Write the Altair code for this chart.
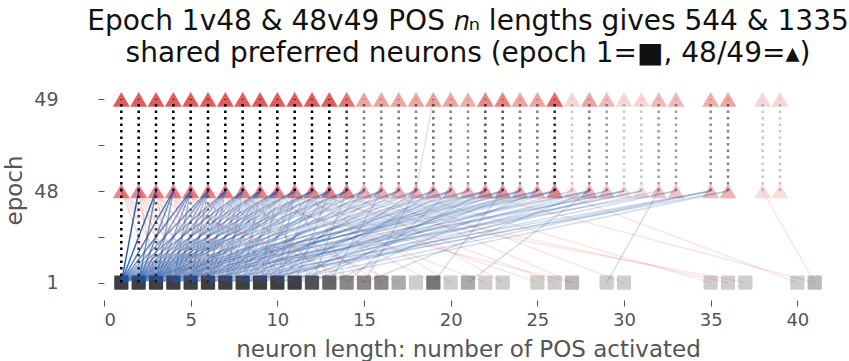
import altair as alt
import pandas as pd

# ---------------- data ----------------
EPOCHS = [1, 48, 49]          # rows of the chart (bottom to top)

# epoch 1 neuron lengths (squares) and how many shared neurons have that length
sq_len = [1, 2, 3, 4, 5, 6, 7, 8, 9, 10, 11, 12, 13, 14, 15, 16, 17, 18, 19, 20, 21, 22, 23,
          25, 26, 27, 29, 30, 35, 36, 37, 40, 41]
sq_n = [95, 75, 62, 52, 44, 37, 31, 26, 21, 17, 16, 13, 10, 6, 6, 6, 3, 1, 8, 1, 3, 1, 1,
        1, 1, 2, 1, 1, 1, 1, 1, 1, 2]

# epoch 48 -> 49 neurons keeping the same length (triangles + dotted verticals)
tri_len = [1, 2, 3, 4, 5, 6, 7, 8, 9, 10, 11, 12, 13, 14, 15, 16, 17, 18, 19, 20, 21, 22, 23,
           24, 25, 26, 27, 28, 29, 30, 31, 32, 33, 35, 36, 38, 39]
tri_n = [180, 160, 140, 120, 110, 95, 80, 70, 60, 50, 40, 30, 25, 12, 5, 5, 5, 5, 6, 5, 4, 9, 9,
         5, 5, 14, 1, 5, 3, 1, 1, 3, 3, 4, 5, 1, 1]

# epoch 1 -> 48 neurons keeping the same length (dotted verticals)
same148_len = [1, 2, 3, 5, 6]
same148_n = [20, 12, 10, 4, 4]

# epoch 48 -> 49 length change
chg4849_from = [18]
chg4849_to = [19]
chg4849_n = [1]

# epoch 1 -> 48 length increases (blue)
up_from = [1, 1, 1, 1, 1, 1, 1, 1, 1, 1, 1, 1, 1, 1, 1, 1, 1, 1, 1, 1,
           2, 2, 2, 2, 2, 2, 2, 2, 2, 2, 2, 2, 2, 2, 2, 2, 2, 2, 2,
           3, 3, 3, 3, 3, 3, 3, 3, 3, 3, 3, 3, 3, 3, 3, 3, 3, 3,
           4, 4, 4, 4, 4, 4, 4, 4, 4, 4, 4, 4, 4, 4, 4, 4,
           5, 5, 5, 5, 5, 5, 5, 5, 5, 5, 5, 5, 5, 5,
           6, 6, 6, 6, 6, 6, 6, 6, 6, 6, 6, 6, 6,
           7, 7, 7, 7, 7, 7, 7, 7, 7, 7, 7,
           8, 8, 8, 8, 8, 8, 8, 8, 8, 8,
           9, 9, 9, 9, 9, 9, 9,
           10, 10, 10, 10, 10, 10, 10,
           11, 11, 11, 11,
           12, 12, 13, 13, 14, 15, 15, 19, 21, 29]
up_to = [2, 3, 4, 5, 6, 7, 8, 9, 10, 11, 12, 13, 14, 15, 16, 18, 20, 22, 24, 26,
         3, 4, 5, 6, 7, 8, 9, 10, 11, 12, 13, 14, 16, 17, 19, 21, 23, 25, 28,
         4, 5, 6, 7, 8, 9, 10, 11, 12, 14, 15, 17, 20, 22, 24, 26, 30, 33,
         5, 6, 7, 8, 9, 10, 12, 13, 15, 16, 18, 21, 23, 25, 28, 30,
         6, 7, 8, 9, 10, 11, 13, 14, 17, 19, 22, 26, 29, 31,
         7, 8, 9, 10, 12, 14, 16, 18, 20, 23, 27, 31, 35,
         8, 9, 10, 11, 13, 15, 19, 22, 25, 32, 36,
         9, 10, 12, 14, 17, 21, 24, 28, 33, 35,
         10, 11, 13, 16, 20, 26, 29,
         11, 12, 15, 18, 23, 30, 35,
         13, 19, 24, 36,
         14, 22, 16, 25, 20, 18, 28, 23, 28, 32]
up_n = [25, 20, 15, 12, 8, 6, 5, 4, 3, 3, 2, 2, 2, 1, 1, 1, 1, 1, 1, 1,
        10, 10, 8, 6, 5, 4, 3, 3, 2, 2, 2, 1, 1, 1, 1, 1, 1, 1, 1,
        6, 6, 5, 4, 4, 3, 2, 2, 2, 1, 1, 1, 1, 1, 1, 1, 1, 1,
        4, 4, 3, 3, 2, 2, 2, 1, 1, 1, 1, 1, 1, 1, 1, 1,
        3, 3, 2, 2, 2, 1, 1, 1, 1, 1, 1, 1, 1, 1,
        2, 2, 2, 1, 1, 1, 1, 1, 1, 1, 1, 1, 1,
        2, 1, 1, 1, 1, 1, 1, 1, 1, 1, 1,
        1, 1, 1, 1, 1, 1, 1, 1, 1, 1,
        1, 1, 1, 1, 1, 1, 1,
        1, 1, 1, 1, 1, 1, 1,
        1, 1, 1, 1,
        1, 1, 1, 1, 1, 1, 1, 1, 1, 1]

# epoch 1 -> 48 length decreases (red)
down_from = [3, 3, 4, 4, 4, 5, 5, 5, 5, 6, 6, 6, 6, 6, 7, 7, 7, 7, 7, 8, 8, 8, 8, 8,
             9, 9, 9, 9, 10, 10, 10, 10, 11, 11, 11, 12, 12, 13, 13, 13, 14, 14, 15, 15,
             16, 16, 17, 19, 20, 22, 23, 25, 26, 27, 27, 30, 35, 36, 37, 40, 41, 41]
down_to = [1, 2, 1, 2, 3, 1, 2, 3, 4, 1, 2, 3, 4, 5, 1, 3, 4, 5, 6, 2, 4, 5, 6, 7,
           3, 5, 7, 8, 2, 6, 8, 9, 4, 7, 10, 5, 9, 3, 8, 11, 6, 12, 2, 10,
           7, 13, 4, 9, 11, 8, 14, 10, 12, 6, 15, 16, 17, 12, 9, 26, 21, 38]
down_n = [3, 4, 2, 3, 3, 2, 2, 2, 2, 1, 2, 1, 2, 2, 1, 1, 1, 2, 1, 1, 1, 1, 1, 1,
          1, 1, 1, 1, 1, 1, 1, 1, 1, 1, 1, 1, 1, 1, 1, 1, 1, 1, 1, 1,
          1, 1, 1, 1, 1, 1, 1, 1, 1, 1, 1, 1, 1, 1, 1, 1, 1, 1]

TITLE = ["Epoch 1v48 & 48v49 POS \U0001D45B\u2099 lengths gives 544 & 1335",
         "shared preferred neurons (epoch 1=\u25A0, 48/49=\u25B4)"]
X_TITLE = "neuron length: number of POS activated"
Y_TITLE = "epoch"

# ---------------- tables ----------------
row = {e: i for i, e in enumerate(EPOCHS)}

squares = pd.DataFrame({"len": sq_len, "n": sq_n, "r": row[1]})
tri48 = pd.DataFrame({"len": tri_len, "n": tri_n, "r": row[48]})
tri49 = pd.DataFrame({"len": tri_len, "n": tri_n, "r": row[49]})
dot4849 = pd.DataFrame({"len": tri_len, "n": tri_n, "r0": row[48], "r1": row[49]})
dot148 = pd.DataFrame({"len": same148_len, "n": same148_n, "r0": row[1], "r1": row[48]})
up = pd.DataFrame({"a": up_from, "b": up_to, "n": up_n, "r0": row[1], "r1": row[48]}).sort_values("n")
down = pd.DataFrame({"a": down_from, "b": down_to, "n": down_n, "r0": row[1], "r1": row[48]}).sort_values("n")
chg = pd.DataFrame({"a": chg4849_from, "b": chg4849_to, "n": chg4849_n, "r0": row[48], "r1": row[49]})

FONT = "DejaVu Sans"
GRAY = "#555555"
XS = alt.Scale(domain=[0, 42], nice=False, zero=False)
YS = alt.Scale(domain=[-0.19, 2.19], nice=False, zero=False)
XA = alt.Axis(values=[0, 5, 10, 15, 20, 25, 30, 35, 40], title=X_TITLE,
              titleX=364, titleY=56, titleBaseline="alphabetic", titleAlign="center",
              labelPadding=5)
label_expr = ("datum.value == 0 ? '%d' : datum.value == 1 ? '%d' : datum.value == 2 ? '%d' : ''"
              % (EPOCHS[0], EPOCHS[1], EPOCHS[2]))
YA = alt.Axis(values=[0, 0.5, 1, 1.5, 2], labelExpr=label_expr, title=Y_TITLE,
              titleX=-90, titleY=108, titleAngle=-90, titleAlign="center",
              titleBaseline="middle", labelPadding=40, labelFontSize=19)


def X(f):
    return alt.X(f, type="quantitative", scale=XS, axis=XA)


def Y(f):
    return alt.Y(f, type="quantitative", scale=YS, axis=YA)


def op(domain_max, top, field="n"):
    return alt.Opacity(field, type="quantitative", legend=None,
                       scale=alt.Scale(type="sqrt", domain=[0, domain_max], range=[0, top], clamp=True))


RED = "#d62728"
BLUE = "#2356a8"

l_sq = alt.Chart(squares).mark_point(shape="square", filled=True, size=150, color="black",
                                     stroke="black", strokeWidth=2, strokeJoin="round").encode(
    x=X("len"), y=Y("r"), opacity=op(16, 0.75))
l_t48 = alt.Chart(tri48).mark_point(shape="triangle-up", filled=True, size=290, color=RED).encode(
    x=X("len"), y=Y("r"), opacity=op(12, 0.55))
l_t49 = alt.Chart(tri49).mark_point(shape="triangle-up", filled=True, size=290, color=RED).encode(
    x=X("len"), y=Y("r"), opacity=op(16, 0.75))
l_down = alt.Chart(down).mark_rule(color=RED, strokeWidth=1.4).encode(
    x=X("a"), x2="b", y=Y("r0"), y2="r1", opacity=op(25, 0.6))
l_up = alt.Chart(up).mark_rule(color=BLUE, strokeWidth=1.5).encode(
    x=X("a"), x2="b", y=Y("r0"), y2="r1", opacity=op(22, 0.95))
l_chg = alt.Chart(chg).mark_rule(color=BLUE, strokeWidth=1.5).encode(
    x=X("a"), x2="b", y=Y("r0"), y2="r1", opacity=op(25, 0.8))
l_d1 = alt.Chart(dot148).mark_rule(color="black", strokeWidth=2.5, strokeDash=[2.5, 4], strokeCap="butt").encode(
    x=X("len"), y=Y("r0"), y2="r1", opacity=op(20, 1.0))
l_d2 = alt.Chart(dot4849).mark_rule(color="black", strokeWidth=2.5, strokeDash=[2.5, 4], strokeCap="butt").encode(
    x=X("len"), y=Y("r0"), y2="r1", opacity=op(20, 1.0))

chart = alt.layer(l_sq, l_t48, l_t49, l_down, l_up, l_chg, l_d1, l_d2).resolve_scale(
    opacity="independent"
).properties(
    width=728, height=218,
    title=alt.Title(text=TITLE, font=FONT, fontSize=28, fontWeight="normal", color="#111111",
                    anchor="middle", lineHeight=32, offset=14),
    autosize=alt.AutoSizeParams(type="none"),
    padding={"left": 104, "top": 82, "right": 17, "bottom": 61},
).configure_view(stroke=None).configure_axis(
    grid=False, domain=False, labelFont=FONT, titleFont=FONT, labelFontSize=18, titleFontSize=23,
    labelColor=GRAY, titleColor=GRAY, tickColor=GRAY, tickSize=6, tickWidth=1,
    titleFontWeight="normal",
)

chart.save("out.html", embed_options={"renderer": "svg", "actions": False})
